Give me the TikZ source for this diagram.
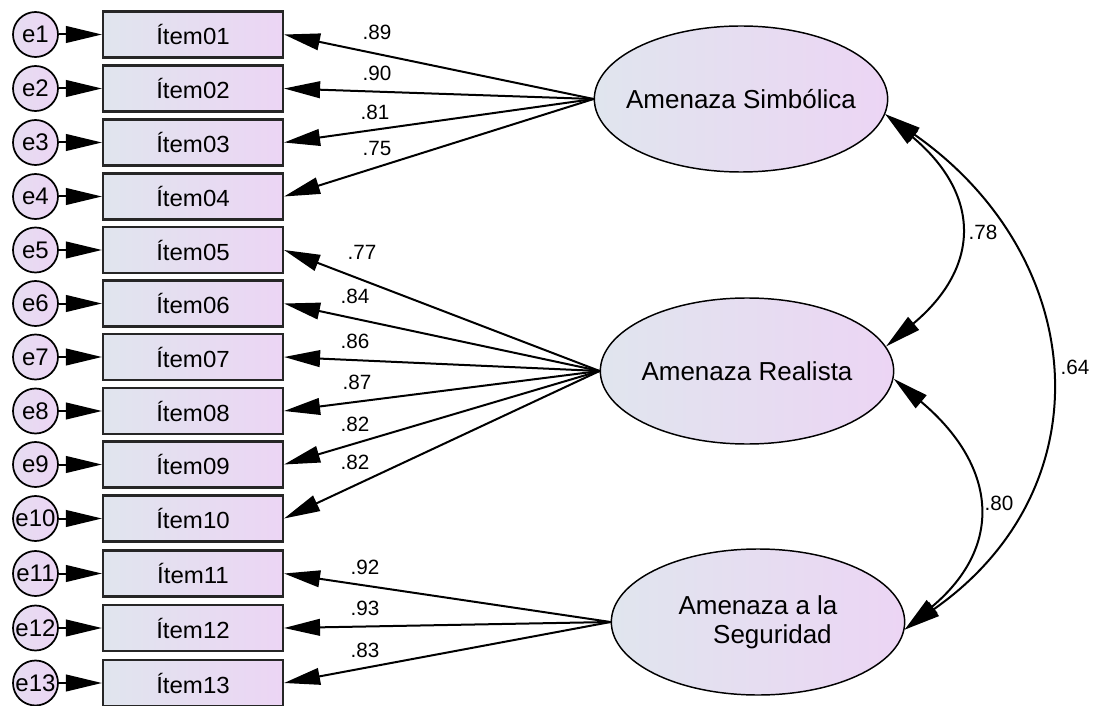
\documentclass[tikz,border=0pt]{standalone}
\usepackage{fontspec}
\setmainfont{Liberation Sans}
\newfontfamily\widesans[FakeStretch=1.03]{Liberation Sans}
\usetikzlibrary{arrows.meta, shapes.geometric}

\definecolor{amosblue}{RGB}{224,229,238}
\definecolor{amoslila}{RGB}{236,213,244}

\tikzset{
    item/.style={draw=black!85, line width=1.6pt, left color=amosblue, right color=amoslila,
        minimum width=135pt, minimum height=34.5pt, inner sep=0pt, font=\widesans\fontsize{17.5}{18}\selectfont},
    err/.style={circle, draw, line width=1.3pt, left color=amosblue!50!amoslila, right color=amoslila,
        minimum size=33.75pt, inner sep=-4pt, font=\fontsize{18}{18}\selectfont},
    factor/.style={ellipse, draw, line width=1.1pt, left color=amosblue, right color=amoslila,
        minimum width=220pt, minimum height=109.5pt, inner xsep=-40pt, inner ysep=-12pt,
        font=\fontsize{19.5}{22}\selectfont},
    load/.style={-{Triangle[length=27pt, width=12.5pt]}, line width=1.5pt},
    cov/.style={{Triangle[length=27pt, width=12.5pt]}-{Triangle[length=27pt, width=12.5pt]}, line width=1.5pt},
    coef/.style={font=\fontsize{15.5}{16}\selectfont, inner sep=0pt}
}

\begin{document}
\begin{tikzpicture}[x=0.75pt, y=-0.75pt]
    \useasboundingbox (0,0) rectangle (1093,706);

    % latent factors
    \node[factor] (sim) at (741,99) {Amenaza Simbólica};
    \node[factor] (rea) at (747,371) {Amenaza Realista};
    \node[factor, align=left] (seg) at (758,622) {Amenaza a la\\\hspace*{26pt}Seguridad};

    % observed items
    \node[item] (i01) at (193,34.5) {Ítem01};
    \node[item] (i02) at (193,88.5) {Ítem02};
    \node[item] (i03) at (193,142.5) {Ítem03};
    \node[item] (i04) at (193,196.5) {Ítem04};
    \node[item] (i05) at (193,250) {Ítem05};
    \node[item] (i06) at (193,303.5) {Ítem06};
    \node[item] (i07) at (193,357) {Ítem07};
    \node[item] (i08) at (193,411) {Ítem08};
    \node[item] (i09) at (193,464.5) {Ítem09};
    \node[item] (i10) at (193,518.5) {Ítem10};
    \node[item] (i11) at (193,573.5) {Ítem11};
    \node[item] (i12) at (193,628) {Ítem12};
    \node[item] (i13) at (193,683) {Ítem13};

    % error terms
    \node[err] (e01) at (35.5,34.5) {e1};
    \node[err] (e02) at (35.5,88.5) {e2};
    \node[err] (e03) at (35.5,142.5) {e3};
    \node[err] (e04) at (35.5,196.5) {e4};
    \node[err] (e05) at (35.5,250) {e5};
    \node[err] (e06) at (35.5,303.5) {e6};
    \node[err] (e07) at (35.5,357) {e7};
    \node[err] (e08) at (35.5,411) {e8};
    \node[err] (e09) at (35.5,464.5) {e9};
    \node[err] (e10) at (35.5,518.5) {e10};
    \node[err] (e11) at (35.5,573.5) {e11};
    \node[err] (e12) at (35.5,628) {e12};
    \node[err] (e13) at (35.5,683) {e13};

    \draw[load] (e01) -- (i01);
    \draw[load] (e02) -- (i02);
    \draw[load] (e03) -- (i03);
    \draw[load] (e04) -- (i04);
    \draw[load] (e05) -- (i05);
    \draw[load] (e06) -- (i06);
    \draw[load] (e07) -- (i07);
    \draw[load] (e08) -- (i08);
    \draw[load] (e09) -- (i09);
    \draw[load] (e10) -- (i10);
    \draw[load] (e11) -- (i11);
    \draw[load] (e12) -- (i12);
    \draw[load] (e13) -- (i13);

    % loadings
    \draw[load] (sim.west) -- (i01.east);
    \draw[load] (sim.west) -- (i02.east);
    \draw[load] (sim.west) -- (i03.east);
    \draw[load] (sim.west) -- (i04.east);
    \draw[load] (rea.west) -- (i05.east);
    \draw[load] (rea.west) -- (i06.east);
    \draw[load] (rea.west) -- (i07.east);
    \draw[load] (rea.west) -- (i08.east);
    \draw[load] (rea.west) -- (i09.east);
    \draw[load] (rea.west) -- (i10.east);
    \draw[load] (seg.west) -- (i11.east);
    \draw[load] (seg.west) -- (i12.east);
    \draw[load] (seg.west) -- (i13.east);

    \node[coef] (w01) at (377,32) {.89};
    \node[coef] (w02) at (377,73) {.90};
    \node[coef] (w03) at (375,112) {.81};
    \node[coef] (w04) at (377,148) {.75};
    \node[coef] (w05) at (362,252) {.77};
    \node[coef] (w06) at (355,296) {.84};
    \node[coef] (w07) at (355,341) {.86};
    \node[coef] (w08) at (357,382) {.87};
    \node[coef] (w09) at (355,424) {.82};
    \node[coef] (w10) at (355,462) {.82};
    \node[coef] (w11) at (365,567) {.92};
    \node[coef] (w12) at (365,608) {.93};
    \node[coef] (w13) at (365,650) {.83};

    % correlations
    \draw[cov] (sim.-6) to[out=-40, in=40, looseness=1.37] (rea.10);
    \draw[cov] (rea.-3) to[out=-40, in=40, looseness=1.35] (seg.-3);
    \draw[cov] (sim.-6) to[out=-35, in=35, looseness=1.23] (seg.-3);
    \node[coef] (r12) at (983,232) {.78};
    \node[coef] (r13) at (1075,367) {.64};
    \node[coef] (r23) at (999,503) {.80};
\end{tikzpicture}
\end{document}
